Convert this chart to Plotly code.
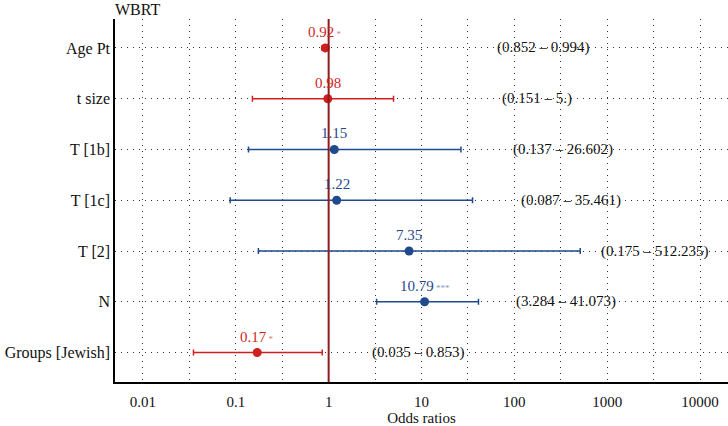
import math
import plotly.graph_objects as go

terms = ["Age Pt", "t size", "T [1b]", "T [1c]", "T [2]", "N", "Groups [Jewish]"]
odds = [0.92, 0.98, 1.15, 1.22, 7.35, 10.79, 0.17]
ci_low = [0.852, 0.151, 0.137, 0.087, 0.175, 3.284, 0.035]
ci_high = [0.994, 5.0, 26.602, 35.461, 512.235, 41.073, 0.853]
ci_text = ["(0.852 – 0.994)", "(0.151 – 5.)", "(0.137 – 26.602)", "(0.087 – 35.461)",
           "(0.175 – 512.235)", "(3.284 – 41.073)", "(0.035 – 0.853)"]
stars = ["*", "", "", "", "", "***", "*"]
x_ticks = [0.01, 0.1, 1, 10, 100, 1000, 10000]
x_tick_labels = ["0.01", "0.1", "1", "10", "100", "1000", "10000"]

# styling: CI label x-positions (log10 units)
ci_label_logx = [2.31, 2.24, 2.52, 2.61, 3.52, 2.56, 0.97]

RED = "#d01f1f"
BLUE = "#1f4a8e"
RED_L = "#e07878"
BLUE_L = "#7f98c2"
FONT = "Liberation Serif"

fig = go.Figure()

ys = list(range(len(terms)))
for i, t in enumerate(terms):
    col = RED if odds[i] < 1 else BLUE
    fig.add_trace(go.Scatter(
        x=[odds[i]], y=[ys[i]], mode="markers",
        marker=dict(color=col, size=9),
        error_x=dict(type="data", symmetric=False,
                     array=[ci_high[i] - odds[i]], arrayminus=[odds[i] - ci_low[i]],
                     color=col, thickness=1.5, width=3),
        showlegend=False, hoverinfo="skip"))
    lc = RED_L if odds[i] < 1 else BLUE_L
    txt = f"{odds[i]:.2f}"
    if stars[i]:
        txt += f"<span style='font-size:9px;color:{lc}'> {stars[i]}</span>"
    fig.add_annotation(x=math.log10(odds[i]), y=ys[i], text=txt, showarrow=False,
                       yshift=16, font=dict(family=FONT, size=15, color=col))
    fig.add_annotation(x=ci_label_logx[i], y=ys[i], text=ci_text[i], showarrow=False,
                       font=dict(family=FONT, size=15, color="#111111"),
                       bgcolor="rgba(255,255,255,0)")

fig.add_shape(type="line", xref="x", yref="paper", x0=1, x1=1, y0=0, y1=1,
              line=dict(color="#8e1c1c", width=2), layer="above")

minor_vals = [10 ** (k + 0.5) for k in range(-3, 5)]

fig.update_layout(
    width=728, height=426,
    margin=dict(l=115, r=0, t=19, b=44),
    paper_bgcolor="white", plot_bgcolor="white",
    font=dict(family=FONT, size=15, color="#111111"),
    title=dict(text="WBRT", x=0, xref="paper", xanchor="left", y=0.99, yanchor="top",
               font=dict(family=FONT, size=16, color="#111111"), pad=dict(l=0)),
    xaxis=dict(type="log", range=[-2.301, 4.301],
               tickvals=x_ticks, ticktext=x_tick_labels,
               showgrid=True, gridcolor="#333333", griddash="1px,5px", gridwidth=1,
               minor=dict(tickmode="array", tickvals=minor_vals, showgrid=True,
                          gridcolor="#333333", griddash="1px,5px", gridwidth=1, ticks=""),
               showline=True, linecolor="black", linewidth=1.5,
               ticks="outside", ticklen=5, tickcolor="rgba(0,0,0,0)",
               zeroline=False, title=dict(text="Odds ratios", standoff=4,
                                          font=dict(family=FONT, size=15)),
               tickfont=dict(family=FONT, size=15)),
    yaxis=dict(range=[6.58, -0.57], tickvals=ys, ticktext=terms,
               showgrid=True, gridcolor="#333333", griddash="1px,5px", gridwidth=1,
               showline=True, linecolor="black", linewidth=1.5, ticks="",
               zeroline=False, tickfont=dict(family=FONT, size=16)),
)

fig.write_html("out.html")
